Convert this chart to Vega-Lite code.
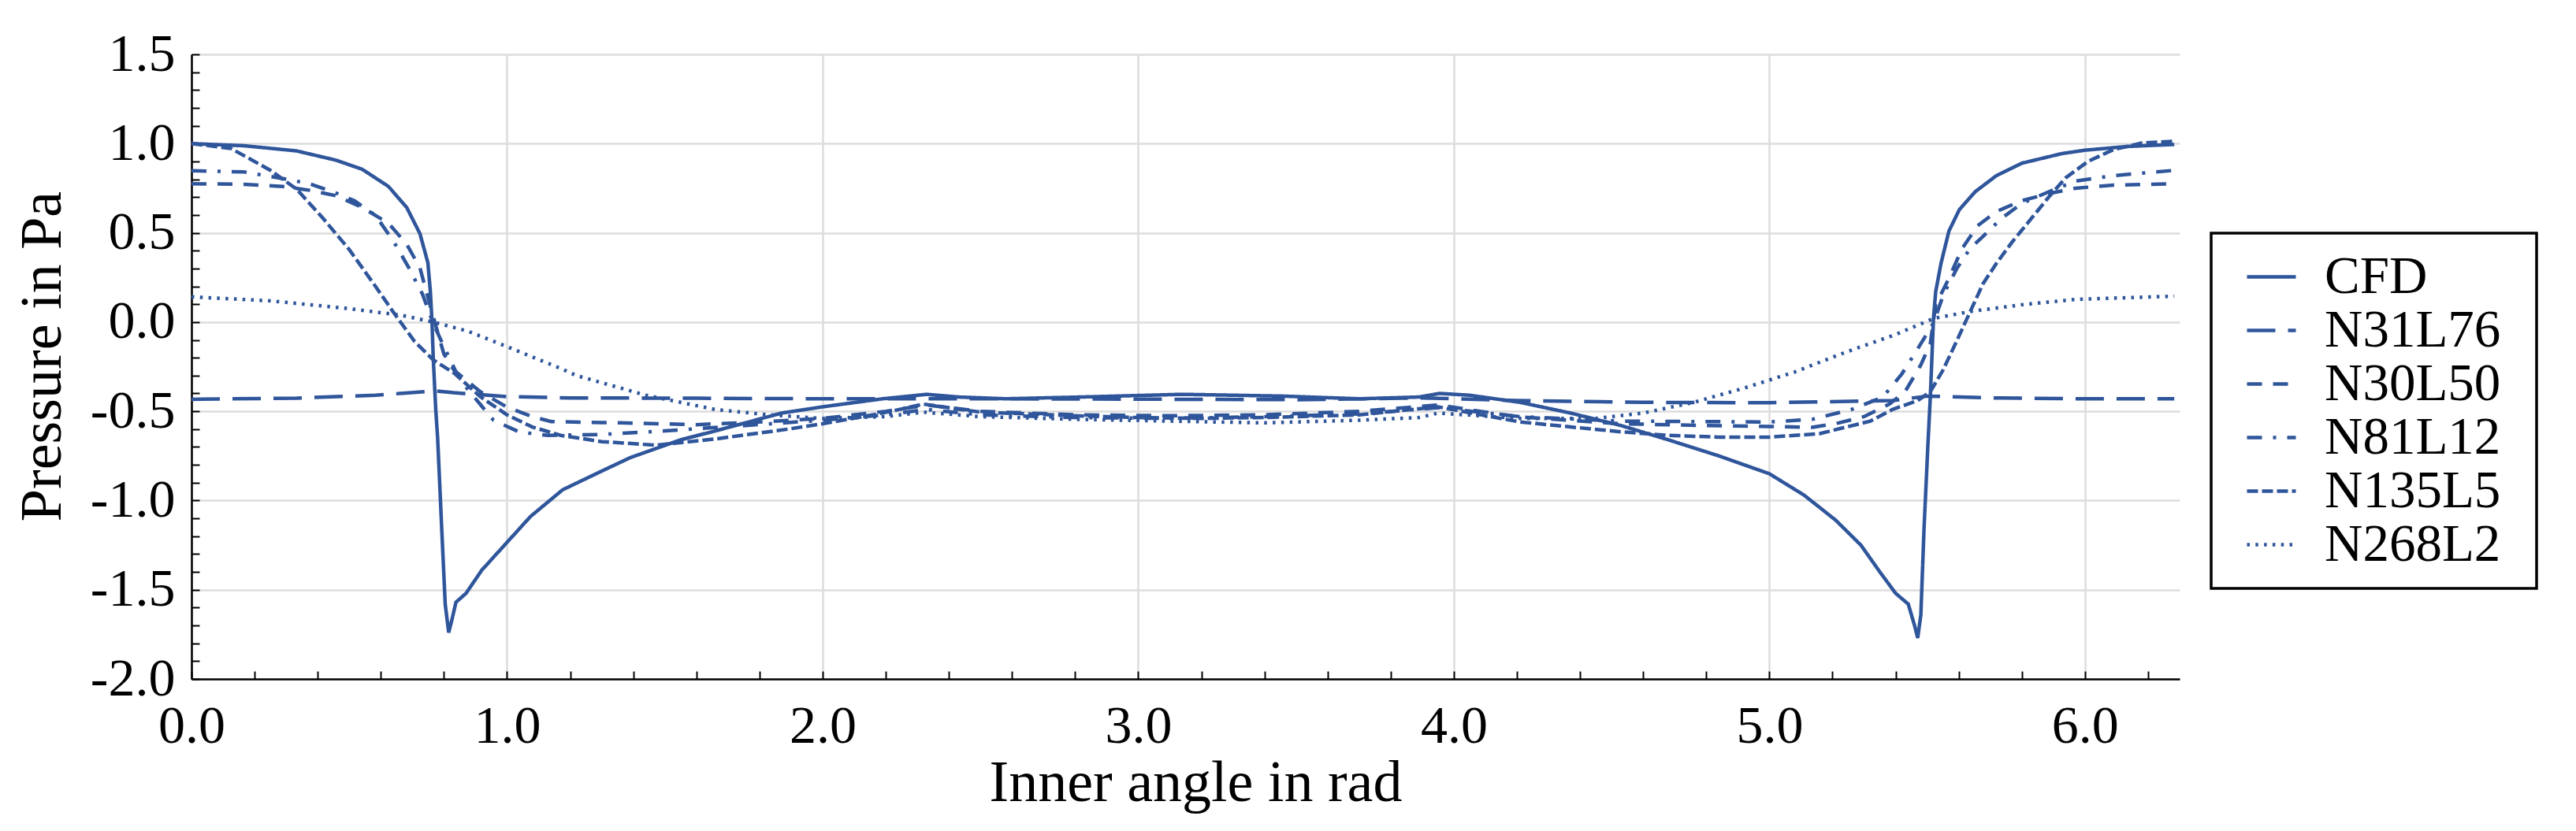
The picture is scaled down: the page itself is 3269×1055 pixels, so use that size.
{
  "$schema": "https://vega.github.io/schema/vega-lite/v6.json",
  "width": 2523,
  "height": 793,
  "autosize": {"type": "none"},
  "padding": {"left": 243, "top": 69, "right": 503, "bottom": 193},
  "data": {
    "values": [
      {"series":"CFD","angle":0,"pressure":1.0},{"series":"CFD","angle":0.166,"pressure":0.988},{"series":"CFD","angle":0.333,"pressure":0.959},{"series":"CFD","angle":0.458,"pressure":0.907},{"series":"CFD","angle":0.541,"pressure":0.856},{"series":"CFD","angle":0.624,"pressure":0.76},{"series":"CFD","angle":0.682,"pressure":0.642},{"series":"CFD","angle":0.724,"pressure":0.495},{"series":"CFD","angle":0.749,"pressure":0.333},{"series":"CFD","angle":0.757,"pressure":0.17},{"series":"CFD","angle":0.762,"pressure":0.007},{"series":"CFD","angle":0.766,"pressure":-0.197},{"series":"CFD","angle":0.774,"pressure":-0.49},{"series":"CFD","angle":0.78,"pressure":-0.65},{"series":"CFD","angle":0.793,"pressure":-1.16},{"series":"CFD","angle":0.804,"pressure":-1.58},{"series":"CFD","angle":0.815,"pressure":-1.74},{"series":"CFD","angle":0.825,"pressure":-1.67},{"series":"CFD","angle":0.838,"pressure":-1.57},{"series":"CFD","angle":0.87,"pressure":-1.52},{"series":"CFD","angle":0.92,"pressure":-1.39},{"series":"CFD","angle":0.997,"pressure":-1.24},{"series":"CFD","angle":1.074,"pressure":-1.09},{"series":"CFD","angle":1.176,"pressure":-0.94},{"series":"CFD","angle":1.3,"pressure":-0.835},{"series":"CFD","angle":1.39,"pressure":-0.76},{"series":"CFD","angle":1.55,"pressure":-0.66},{"series":"CFD","angle":1.66,"pressure":-0.61},{"series":"CFD","angle":1.87,"pressure":-0.51},{"series":"CFD","angle":2.0,"pressure":-0.475},{"series":"CFD","angle":2.19,"pressure":-0.43},{"series":"CFD","angle":2.33,"pressure":-0.405},{"series":"CFD","angle":2.43,"pressure":-0.42},{"series":"CFD","angle":2.58,"pressure":-0.43},{"series":"CFD","angle":2.82,"pressure":-0.42},{"series":"CFD","angle":3.14,"pressure":-0.405},{"series":"CFD","angle":3.46,"pressure":-0.415},{"series":"CFD","angle":3.7,"pressure":-0.43},{"series":"CFD","angle":3.89,"pressure":-0.42},{"series":"CFD","angle":3.955,"pressure":-0.4},{"series":"CFD","angle":4.05,"pressure":-0.41},{"series":"CFD","angle":4.21,"pressure":-0.45},{"series":"CFD","angle":4.37,"pressure":-0.51},{"series":"CFD","angle":4.53,"pressure":-0.58},{"series":"CFD","angle":4.68,"pressure":-0.66},{"series":"CFD","angle":4.84,"pressure":-0.75},{"series":"CFD","angle":5.0,"pressure":-0.85},{"series":"CFD","angle":5.11,"pressure":-0.97},{"series":"CFD","angle":5.21,"pressure":-1.11},{"series":"CFD","angle":5.29,"pressure":-1.25},{"series":"CFD","angle":5.35,"pressure":-1.4},{"series":"CFD","angle":5.4,"pressure":-1.52},{"series":"CFD","angle":5.44,"pressure":-1.58},{"series":"CFD","angle":5.46,"pressure":-1.7},{"series":"CFD","angle":5.47,"pressure":-1.77},{"series":"CFD","angle":5.48,"pressure":-1.64},{"series":"CFD","angle":5.49,"pressure":-1.16},{"series":"CFD","angle":5.502,"pressure":-0.7},{"series":"CFD","angle":5.51,"pressure":-0.42},{"series":"CFD","angle":5.515,"pressure":-0.2},{"series":"CFD","angle":5.52,"pressure":0.02},{"series":"CFD","angle":5.527,"pressure":0.17},{"series":"CFD","angle":5.544,"pressure":0.33},{"series":"CFD","angle":5.569,"pressure":0.51},{"series":"CFD","angle":5.602,"pressure":0.63},{"series":"CFD","angle":5.652,"pressure":0.73},{"series":"CFD","angle":5.719,"pressure":0.82},{"series":"CFD","angle":5.8,"pressure":0.89},{"series":"CFD","angle":5.927,"pressure":0.944},{"series":"CFD","angle":6.0,"pressure":0.963},{"series":"CFD","angle":6.135,"pressure":0.984},{"series":"CFD","angle":6.283,"pressure":0.995},
      {"series":"N31L76","angle":0,"pressure":-0.433},{"series":"N31L76","angle":0.333,"pressure":-0.426},{"series":"N31L76","angle":0.583,"pressure":-0.41},{"series":"N31L76","angle":0.774,"pressure":-0.386},{"series":"N31L76","angle":0.83,"pressure":-0.396},{"series":"N31L76","angle":1.0,"pressure":-0.418},{"series":"N31L76","angle":1.2,"pressure":-0.425},{"series":"N31L76","angle":1.6,"pressure":-0.427},{"series":"N31L76","angle":2.0,"pressure":-0.43},{"series":"N31L76","angle":2.5,"pressure":-0.43},{"series":"N31L76","angle":3.0,"pressure":-0.432},{"series":"N31L76","angle":3.5,"pressure":-0.435},{"series":"N31L76","angle":3.9,"pressure":-0.425},{"series":"N31L76","angle":4.2,"pressure":-0.44},{"series":"N31L76","angle":4.6,"pressure":-0.45},{"series":"N31L76","angle":5.0,"pressure":-0.452},{"series":"N31L76","angle":5.39,"pressure":-0.44},{"series":"N31L76","angle":5.5,"pressure":-0.415},{"series":"N31L76","angle":5.7,"pressure":-0.425},{"series":"N31L76","angle":6.0,"pressure":-0.43},{"series":"N31L76","angle":6.283,"pressure":-0.43},
      {"series":"N30L50","angle":0,"pressure":0.775},{"series":"N30L50","angle":0.166,"pressure":0.772},{"series":"N30L50","angle":0.29,"pressure":0.76},{"series":"N30L50","angle":0.375,"pressure":0.738},{"series":"N30L50","angle":0.458,"pressure":0.708},{"series":"N30L50","angle":0.541,"pressure":0.642},{"series":"N30L50","angle":0.624,"pressure":0.554},{"series":"N30L50","angle":0.682,"pressure":0.436},{"series":"N30L50","angle":0.724,"pressure":0.303},{"series":"N30L50","angle":0.749,"pressure":0.14},{"series":"N30L50","angle":0.774,"pressure":-0.02},{"series":"N30L50","angle":0.8,"pressure":-0.18},{"series":"N30L50","angle":0.832,"pressure":-0.27},{"series":"N30L50","angle":0.915,"pressure":-0.39},{"series":"N30L50","angle":1.0,"pressure":-0.477},{"series":"N30L50","angle":1.08,"pressure":-0.53},{"series":"N30L50","angle":1.14,"pressure":-0.558},{"series":"N30L50","angle":1.36,"pressure":-0.565},{"series":"N30L50","angle":1.6,"pressure":-0.575},{"series":"N30L50","angle":1.8,"pressure":-0.56},{"series":"N30L50","angle":2.0,"pressure":-0.54},{"series":"N30L50","angle":2.2,"pressure":-0.5},{"series":"N30L50","angle":2.33,"pressure":-0.465},{"series":"N30L50","angle":2.5,"pressure":-0.5},{"series":"N30L50","angle":2.8,"pressure":-0.52},{"series":"N30L50","angle":3.1,"pressure":-0.525},{"series":"N30L50","angle":3.4,"pressure":-0.52},{"series":"N30L50","angle":3.7,"pressure":-0.5},{"series":"N30L50","angle":3.95,"pressure":-0.465},{"series":"N30L50","angle":4.2,"pressure":-0.53},{"series":"N30L50","angle":4.53,"pressure":-0.57},{"series":"N30L50","angle":4.8,"pressure":-0.58},{"series":"N30L50","angle":5.0,"pressure":-0.585},{"series":"N30L50","angle":5.136,"pressure":-0.59},{"series":"N30L50","angle":5.22,"pressure":-0.565},{"series":"N30L50","angle":5.3,"pressure":-0.53},{"series":"N30L50","angle":5.38,"pressure":-0.46},{"series":"N30L50","angle":5.43,"pressure":-0.39},{"series":"N30L50","angle":5.48,"pressure":-0.24},{"series":"N30L50","angle":5.51,"pressure":-0.12},{"series":"N30L50","angle":5.527,"pressure":0.097},{"series":"N30L50","angle":5.569,"pressure":0.245},{"series":"N30L50","angle":5.61,"pressure":0.41},{"series":"N30L50","angle":5.66,"pressure":0.54},{"series":"N30L50","angle":5.72,"pressure":0.62},{"series":"N30L50","angle":5.8,"pressure":0.68},{"series":"N30L50","angle":5.885,"pressure":0.72},{"series":"N30L50","angle":5.97,"pressure":0.75},{"series":"N30L50","angle":6.09,"pressure":0.767},{"series":"N30L50","angle":6.283,"pressure":0.775},
      {"series":"N81L12","angle":0,"pressure":0.848},{"series":"N81L12","angle":0.166,"pressure":0.841},{"series":"N81L12","angle":0.29,"pressure":0.804},{"series":"N81L12","angle":0.375,"pressure":0.775},{"series":"N81L12","angle":0.458,"pressure":0.723},{"series":"N81L12","angle":0.516,"pressure":0.68},{"series":"N81L12","angle":0.583,"pressure":0.598},{"series":"N81L12","angle":0.641,"pressure":0.45},{"series":"N81L12","angle":0.69,"pressure":0.3},{"series":"N81L12","angle":0.732,"pressure":0.156},{"series":"N81L12","angle":0.766,"pressure":-0.007},{"series":"N81L12","angle":0.8,"pressure":-0.138},{"series":"N81L12","angle":0.84,"pressure":-0.286},{"series":"N81L12","angle":0.874,"pressure":-0.374},{"series":"N81L12","angle":0.957,"pressure":-0.55},{"series":"N81L12","angle":1.04,"pressure":-0.617},{"series":"N81L12","angle":1.13,"pressure":-0.635},{"series":"N81L12","angle":1.3,"pressure":-0.63},{"series":"N81L12","angle":1.5,"pressure":-0.61},{"series":"N81L12","angle":1.71,"pressure":-0.585},{"series":"N81L12","angle":2.0,"pressure":-0.55},{"series":"N81L12","angle":2.2,"pressure":-0.52},{"series":"N81L12","angle":2.33,"pressure":-0.49},{"series":"N81L12","angle":2.5,"pressure":-0.52},{"series":"N81L12","angle":2.8,"pressure":-0.535},{"series":"N81L12","angle":3.1,"pressure":-0.54},{"series":"N81L12","angle":3.4,"pressure":-0.53},{"series":"N81L12","angle":3.7,"pressure":-0.515},{"series":"N81L12","angle":3.95,"pressure":-0.48},{"series":"N81L12","angle":4.21,"pressure":-0.53},{"series":"N81L12","angle":4.53,"pressure":-0.555},{"series":"N81L12","angle":5.0,"pressure":-0.56},{"series":"N81L12","angle":5.136,"pressure":-0.545},{"series":"N81L12","angle":5.26,"pressure":-0.49},{"series":"N81L12","angle":5.36,"pressure":-0.42},{"series":"N81L12","angle":5.42,"pressure":-0.29},{"series":"N81L12","angle":5.47,"pressure":-0.15},{"series":"N81L12","angle":5.52,"pressure":-0.006},{"series":"N81L12","angle":5.552,"pressure":0.156},{"series":"N81L12","angle":5.594,"pressure":0.3},{"series":"N81L12","angle":5.635,"pressure":0.41},{"series":"N81L12","angle":5.677,"pressure":0.48},{"series":"N81L12","angle":5.735,"pressure":0.58},{"series":"N81L12","angle":5.8,"pressure":0.665},{"series":"N81L12","angle":5.885,"pressure":0.73},{"series":"N81L12","angle":5.97,"pressure":0.79},{"series":"N81L12","angle":6.09,"pressure":0.82},{"series":"N81L12","angle":6.283,"pressure":0.85},
      {"series":"N135L5","angle":0,"pressure":1.0},{"series":"N135L5","angle":0.125,"pressure":0.973},{"series":"N135L5","angle":0.25,"pressure":0.85},{"series":"N135L5","angle":0.333,"pressure":0.745},{"series":"N135L5","angle":0.416,"pressure":0.583},{"series":"N135L5","angle":0.5,"pressure":0.406},{"series":"N135L5","angle":0.583,"pressure":0.2},{"series":"N135L5","angle":0.641,"pressure":0.052},{"series":"N135L5","angle":0.707,"pressure":-0.109},{"series":"N135L5","angle":0.766,"pressure":-0.212},{"series":"N135L5","angle":0.832,"pressure":-0.286},{"series":"N135L5","angle":0.915,"pressure":-0.418},{"series":"N135L5","angle":1.0,"pressure":-0.52},{"series":"N135L5","angle":1.08,"pressure":-0.588},{"series":"N135L5","angle":1.17,"pressure":-0.635},{"series":"N135L5","angle":1.3,"pressure":-0.67},{"series":"N135L5","angle":1.47,"pressure":-0.69},{"series":"N135L5","angle":1.66,"pressure":-0.655},{"series":"N135L5","angle":1.89,"pressure":-0.6},{"series":"N135L5","angle":2.0,"pressure":-0.57},{"series":"N135L5","angle":2.19,"pressure":-0.51},{"series":"N135L5","angle":2.32,"pressure":-0.46},{"series":"N135L5","angle":2.5,"pressure":-0.505},{"series":"N135L5","angle":2.8,"pressure":-0.525},{"series":"N135L5","angle":3.0,"pressure":-0.535},{"series":"N135L5","angle":3.2,"pressure":-0.54},{"series":"N135L5","angle":3.4,"pressure":-0.535},{"series":"N135L5","angle":3.7,"pressure":-0.52},{"series":"N135L5","angle":3.95,"pressure":-0.475},{"series":"N135L5","angle":4.21,"pressure":-0.56},{"series":"N135L5","angle":4.53,"pressure":-0.615},{"series":"N135L5","angle":4.68,"pressure":-0.635},{"series":"N135L5","angle":4.84,"pressure":-0.645},{"series":"N135L5","angle":5.0,"pressure":-0.645},{"series":"N135L5","angle":5.16,"pressure":-0.625},{"series":"N135L5","angle":5.32,"pressure":-0.555},{"series":"N135L5","angle":5.39,"pressure":-0.49},{"series":"N135L5","angle":5.47,"pressure":-0.44},{"series":"N135L5","angle":5.51,"pressure":-0.39},{"series":"N135L5","angle":5.55,"pressure":-0.27},{"series":"N135L5","angle":5.59,"pressure":-0.12},{"series":"N135L5","angle":5.635,"pressure":0.053},{"series":"N135L5","angle":5.677,"pressure":0.215},{"series":"N135L5","angle":5.72,"pressure":0.33},{"series":"N135L5","angle":5.77,"pressure":0.45},{"series":"N135L5","angle":5.83,"pressure":0.58},{"series":"N135L5","angle":5.885,"pressure":0.7},{"series":"N135L5","angle":5.94,"pressure":0.81},{"series":"N135L5","angle":6.01,"pressure":0.9},{"series":"N135L5","angle":6.09,"pressure":0.966},{"series":"N135L5","angle":6.18,"pressure":1.003},{"series":"N135L5","angle":6.283,"pressure":1.013},
      {"series":"N268L2","angle":0,"pressure":0.141},{"series":"N268L2","angle":0.25,"pressure":0.119},{"series":"N268L2","angle":0.5,"pressure":0.075},{"series":"N268L2","angle":0.666,"pressure":0.038},{"series":"N268L2","angle":0.766,"pressure":0.0},{"series":"N268L2","angle":0.874,"pressure":-0.05},{"series":"N268L2","angle":1.0,"pressure":-0.138},{"series":"N268L2","angle":1.17,"pressure":-0.26},{"series":"N268L2","angle":1.22,"pressure":-0.3},{"series":"N268L2","angle":1.44,"pressure":-0.41},{"series":"N268L2","angle":1.66,"pressure":-0.49},{"series":"N268L2","angle":1.83,"pressure":-0.52},{"series":"N268L2","angle":2.0,"pressure":-0.54},{"series":"N268L2","angle":2.2,"pressure":-0.53},{"series":"N268L2","angle":2.32,"pressure":-0.505},{"series":"N268L2","angle":2.5,"pressure":-0.53},{"series":"N268L2","angle":2.8,"pressure":-0.545},{"series":"N268L2","angle":3.1,"pressure":-0.555},{"series":"N268L2","angle":3.4,"pressure":-0.565},{"series":"N268L2","angle":3.7,"pressure":-0.55},{"series":"N268L2","angle":3.89,"pressure":-0.535},{"series":"N268L2","angle":3.95,"pressure":-0.51},{"series":"N268L2","angle":4.21,"pressure":-0.54},{"series":"N268L2","angle":4.45,"pressure":-0.54},{"series":"N268L2","angle":4.6,"pressure":-0.51},{"series":"N268L2","angle":4.76,"pressure":-0.45},{"series":"N268L2","angle":4.92,"pressure":-0.37},{"series":"N268L2","angle":5.08,"pressure":-0.28},{"series":"N268L2","angle":5.24,"pressure":-0.17},{"series":"N268L2","angle":5.4,"pressure":-0.07},{"series":"N268L2","angle":5.52,"pressure":0.02},{"series":"N268L2","angle":5.64,"pressure":0.06},{"series":"N268L2","angle":5.8,"pressure":0.097},{"series":"N268L2","angle":5.97,"pressure":0.127},{"series":"N268L2","angle":6.283,"pressure":0.145}
    ]
  },
  "mark": {"type": "line", "color": "#2f559b", "strokeWidth": 4.5},
  "encoding": {
    "x": {
      "field": "angle",
      "type": "quantitative",
      "scale": {"domain": [0, 6.3], "nice": false, "zero": false},
      "axis": {
        "title": "Inner angle in rad",
        "values": [0,0.2,0.4,0.6,0.8,1,1.2,1.4,1.6,1.8,2,2.2,2.4,2.6,2.8,3,3.2,3.4,3.6,3.8,4,4.2,4.4,4.6,4.8,5,5.2,5.4,5.6,5.8,6,6.2],
        "labelExpr": "abs(datum.value - round(datum.value)) < 0.001 ? format(datum.value, '.1f') : ''",
        "gridOpacity": {"condition": {"test": "abs(datum.value - round(datum.value)) < 0.001", "value": 1}, "value": 0},
        "labelPadding": 36,
        "titlePadding": 2,
        "titleX": 1274
      }
    },
    "y": {
      "field": "pressure",
      "type": "quantitative",
      "scale": {"domain": [-2, 1.5], "nice": false, "zero": false},
      "axis": {
        "title": "Pressure in Pa",
        "values": [-2,-1.9,-1.8,-1.7,-1.6,-1.5,-1.4,-1.3,-1.2,-1.1,-1,-0.9,-0.8,-0.7,-0.6,-0.5,-0.4,-0.3,-0.2,-0.1,0,0.1,0.2,0.3,0.4,0.5,0.6,0.7,0.8,0.9,1,1.1,1.2,1.3,1.4,1.5],
        "labelExpr": "abs(datum.value*2 - round(datum.value*2)) < 0.001 ? (datum.value < -0.001 ? '-' + format(-datum.value, '.1f') : format(abs(datum.value), '.1f')) : ''",
        "gridOpacity": {"condition": {"test": "abs(datum.value*2 - round(datum.value*2)) < 0.001", "value": 1}, "value": 0},
        "labelPadding": 31,
        "titlePadding": 22,
        "titleY": 383
      }
    },
    "strokeDash": {
      "field": "series",
      "type": "nominal",
      "scale": {
        "domain": ["CFD", "N31L76", "N30L50", "N81L12", "N135L5", "N268L2"],
        "range": [[1, 0], [36, 16], [19, 14], [19, 14, 4, 14], [14, 5], [3.5, 7.3]]
      },
      "legend": {
        "title": " ",
        "titleOrient": "right",
        "titleFontSize": 1,
        "titlePadding": 24,
        "orient": "none",
        "legendX": 2563,
        "legendY": 227,
        "symbolType": "stroke",
        "symbolSize": 3844,
        "symbolStrokeWidth": 4.5,
        "symbolStrokeColor": "#2f559b",
        "symbolOffset": 21,
        "labelOffset": 34,
        "labelFontSize": 67,
        "labelLimit": 1000,
        "labelColor": "black",
        "rowPadding": 0,
        "padding": 22,
        "strokeColor": "black",
        "fillColor": "white"
      }
    }
  },
  "config": {
    "view": {"stroke": null},
    "font": "Liberation Serif",
    "axis": {
      "grid": true,
      "gridColor": "#dddddd",
      "gridWidth": 2.5,
      "tickSize": -10,
      "tickColor": "black",
      "tickWidth": 2,
      "domainColor": "black",
      "domainWidth": 2.5,
      "labelFontSize": 68,
      "labelColor": "black",
      "labelOverlap": false,
      "labelFlush": false,
      "labelBound": false,
      "titleFontSize": 74,
      "titleFontWeight": "normal",
      "titleColor": "black"
    },
    "legend": {"strokeWidth": 3.5}
  }
}
